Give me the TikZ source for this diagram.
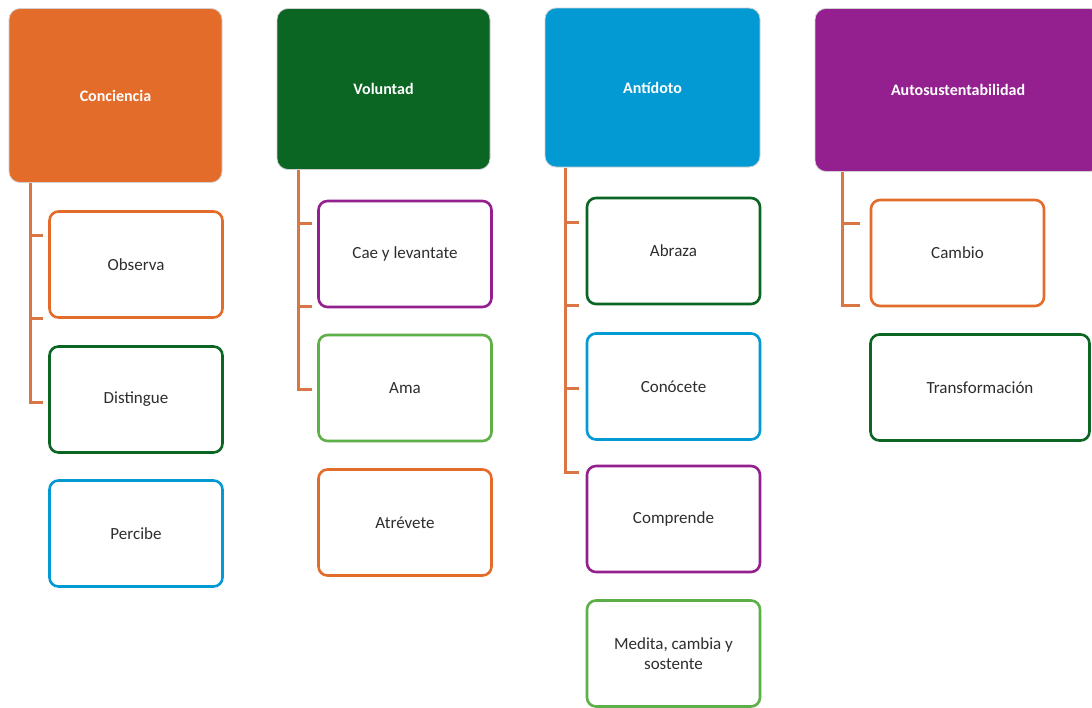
\documentclass[tikz,border=0pt]{standalone}
\usepackage{fontspec}
\setmainfont{Carlito}
\usepackage{tikz}
\definecolor{corange}{HTML}{E46C2A}
\definecolor{cdgreen}{HTML}{0B6523}
\definecolor{cblue}{HTML}{0399D2}
\definecolor{cpurple}{HTML}{93208E}
\definecolor{clgreen}{HTML}{5DAF48}
\definecolor{clink}{HTML}{DA7544}
\definecolor{ctext}{HTML}{2E2E2E}
\newcommand{\headwidth}{213pt}
\newcommand{\itemwidth}{173pt}
\tikzstyle{head}=[rounded corners=11pt, draw=black!18, line width=0.8pt, inner sep=0, minimum width=\headwidth,
                  text=white, font=\fontsize{16}{18}\selectfont\bfseries]
\tikzstyle{item}=[rounded corners=9pt, line width=2.6pt, fill=white, inner sep=0, minimum width=\itemwidth,
                  minimum height=106pt, text=ctext, align=center, font=\fontsize{17}{20}\selectfont]
\tikzstyle{link}=[draw=clink, line width=3pt]
\tikzstyle{tree}=[x=1pt, y=-1pt,
                  % Keep the page at the size of the reference.
                  execute at begin picture={\useasboundingbox (0,0) rectangle (1092,707);}]

\begin{document}
\begin{tikzpicture}[tree]
        \fill[white] (0,0) rectangle (1092,707);
        % Headers
        \node[head, fill=corange, minimum height=174pt]                     (H1) at (115.5, 95.5) {Conciencia};
        \node[head, fill=cdgreen, minimum height=161pt]                     (H2) at (383.5, 89) {Voluntad};
        \node[head, fill=cblue, minimum height=159pt, minimum width=215pt]  (H3) at (652.5, 87.5) {Antídoto};
        \node[head, fill=cpurple, minimum height=163pt, minimum width=286pt] (H4) at (958, 90) {Autosustentabilidad};
        % Items
        \node[item, draw=corange]  (A1) at (136, 264.5) {Observa};
        \node[item, draw=cdgreen]  (A2) at (136, 399.5) {Distingue};
        \node[item, draw=cblue]    (A3) at (136, 533.5) {Percibe};
        \node[item, draw=cpurple]  (B1) at (405, 254) {Cae y levantate};
        \node[item, draw=clgreen]  (B2) at (405, 388) {Ama};
        \node[item, draw=corange]  (B3) at (405, 522.5) {Atrévete};
        \node[item, draw=cdgreen]  (C1) at (673.5, 251) {Abraza};
        \node[item, draw=cblue]    (C2) at (673.5, 386.5) {Conócete};
        \node[item, draw=cpurple]  (C3) at (673.5, 519) {Comprende};
        \node[item, draw=clgreen]  (C4) at (673.5, 653.5) {Medita, cambia y\\sostente};
        \node[item, draw=corange]  (D1) at (957.5, 253) {Cambio};
        \node[item, draw=cdgreen, minimum width=219pt] (D2) at (980, 387.5) {Transformación};
        % Brackets
        \coordinate (A0) at (30, 183);
        \coordinate (At1) at (43, 235);
        \coordinate (At2) at (43, 318);
        \coordinate (At3) at (43, 402);
        \coordinate (B0) at (298, 170);
        \coordinate (Bt1) at (312, 223);
        \coordinate (Bt2) at (312, 306);
        \coordinate (Bt3) at (312, 389);
        \coordinate (C0) at (565, 168);
        \coordinate (Ct1) at (579, 222);
        \coordinate (Ct2) at (579, 305);
        \coordinate (Ct3) at (579, 388);
        \coordinate (Ct4) at (579, 472);
        \coordinate (D0) at (842, 172);
        \coordinate (Dt1) at (860, 223);
        \coordinate (Dt2) at (860, 305);
        \draw[link] (A0) |- (At3);
        \draw[link] (At1 -| A0) -- (At1);
        \draw[link] (At2 -| A0) -- (At2);
        \draw[link] (B0) |- (Bt3);
        \draw[link] (Bt1 -| B0) -- (Bt1);
        \draw[link] (Bt2 -| B0) -- (Bt2);
        \draw[link] (C0) |- (Ct4);
        \draw[link] (Ct1 -| C0) -- (Ct1);
        \draw[link] (Ct2 -| C0) -- (Ct2);
        \draw[link] (Ct3 -| C0) -- (Ct3);
        \draw[link] (D0) |- (Dt2);
        \draw[link] (Dt1 -| D0) -- (Dt1);
    \end{tikzpicture}
\end{document}
